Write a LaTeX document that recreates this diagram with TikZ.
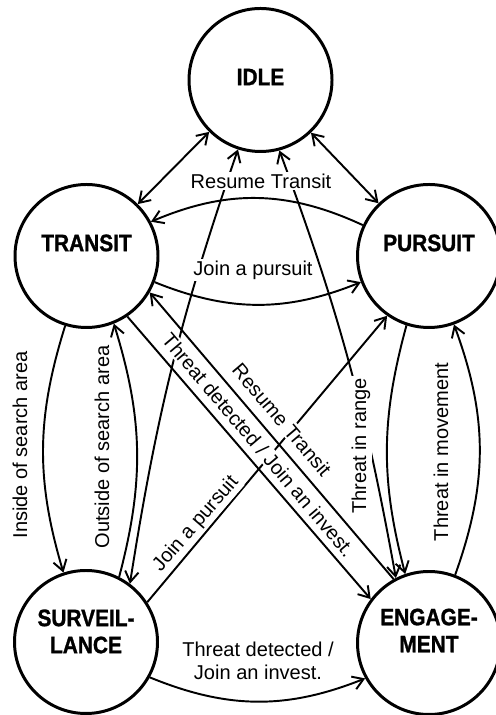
\documentclass[tikz,border=0pt]{standalone}
\usepackage{fontspec}
\setmainfont{Liberation Sans}
\newfontfamily\statefont[FakeStretch=0.88, FakeBold=1.2]{Liberation Sans}
\usetikzlibrary{arrows.meta}
\tikzset{
    state/.style={circle, draw, line width=1.7pt, minimum size=2.86cm, inner sep=0pt}, % 状态圆
    state name/.style={font={\statefont\bfseries\fontsize{13.5}{15.4}\selectfont}, align=center, inner sep=0pt}, % 状态名
    trans/.style={line width=1.1pt}, % 转移连线
    tag/.style={font={\fontsize{11.4}{13}\selectfont}, fill=white, inner sep=1pt, align=center} % 转移条件
}

\begin{document}
\begin{tikzpicture}[>={Straight Barb[length=2.1mm, width=2.7mm]}]
    \useasboundingbox (0,0) rectangle (9.9,14.3);

    % 五个状态
    \node[state, label={[state name, yshift=0.06cm]center:IDLE}] (idle) at (5.21,12.70) {};
    \node[state, label={[state name, yshift=0.26cm]center:TRANSIT}] (transit) at (1.73,9.18) {};
    \node[state, label={[state name, yshift=0.26cm]center:PURSUIT}] (pursuit) at (8.58,9.18) {};
    \node[state, label={[state name, yshift=0.21cm]center:SURVEIL-\\LANCE}] (surv) at (1.72,1.46) {};
    \node[state, label={[state name, yshift=0.25cm]center:ENGAGE-\\MENT}] (engage) at (8.58,1.44) {};

    % 被标签遮断的连线先画
    \draw[<->, trans] (idle.252) to[bend right=5] (surv.53);
    \draw[<->, trans] (idle.-75) to[bend left=5] (engage.117);
    \draw[->, trans] (surv.33) -- (pursuit.235);

    % 条件标签
    \node[tag] (resume top) at (5.22,10.68) {Resume Transit};
    \node[tag] (join top) at (5.06,8.90) {Join a pursuit};
    \node[tag, rotate=90] (inside) at (0.40,5.40) {Inside of search area};
    \node[tag, rotate=90] (outside) at (2.04,5.36) {Outside of search area};
    \node[tag, rotate=49] (join low) at (3.92,3.82) {Join a pursuit};
    \node[tag, rotate=-49.7] (resume diag) at (5.64,5.90) {Resume Transit};
    \node[tag, rotate=-49.7] (detect diag) at (5.17,5.40) {Threat detected / Join an invest.};
    \node[tag, rotate=90] (range) at (7.22,5.38) {Threat in range};
    \node[tag, rotate=90] (movement) at (8.82,5.26) {Threat in movement};
    \node[tag] (detect low) at (5.16,1.08) {Threat detected /\\Join an invest.};

    % 其余连线
    \draw[<->, trans] (idle) -- (transit);
    \draw[<->, trans] (idle) -- (pursuit);
    \draw[->, trans] (pursuit.155) to[bend right=24] (transit.28);
    \draw[->, trans] (transit.-21) to[bend right=22] (pursuit.201);
    \draw[->, trans] (engage.119) -- (transit.-30);
    \draw[->, trans] (transit.-56) -- (engage.143);
    \draw[->, trans] (transit.253) to[bend right=17] (surv.108);
    \draw[->, trans] (surv.63) to[bend right=16] (transit.-68);
    \draw[->, trans] (pursuit.-108) to[bend right=15] (engage.109);
    \draw[->, trans] (engage.69) to[bend right=20] (pursuit.-70);
    \draw[->, trans] (surv.-29) to[bend right=22] (engage.209);
\end{tikzpicture}
\end{document}
